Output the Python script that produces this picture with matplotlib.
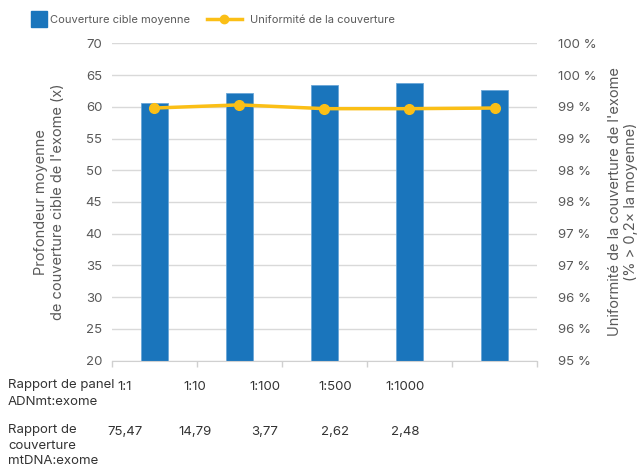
import matplotlib.pyplot as plt
from matplotlib.lines import Line2D

plt.rcParams['font.family'] = ['Inter', 'DejaVu Sans']

# données
ratios_panel = ["1:1", "1:10", "1:100", "1:500", "1:1000"]
ratios_cov = ["75,47", "14,79", "3,77", "2,62", "2,48"]
couverture = [60.6, 62.2, 63.4, 63.7, 62.6]
uniformite = [98.98, 99.03, 98.97, 98.97, 98.98]

BLUE = "#1a75bc"
GOLD = "#fbbf16"
GRAY = "#595959"
DARK = "#333333"
FS = 9.5

W, H = 638, 473
fig = plt.figure(figsize=(W / 100, H / 100), dpi=100)
ax = fig.add_axes([0.1755, 0.2374, 0.6662, 0.6711])

x = list(range(len(ratios_panel)))
ax.bar(x, couverture, width=0.31, color=BLUE, edgecolor="#6aa7d8", linewidth=0.6, zorder=2)
ax.set_xlim(-0.5, len(x) - 0.5)
ax.set_ylim(20, 70)
ax.set_yticks(range(20, 71, 5))
ax.grid(axis="y", color="#d9d9d9", linewidth=1, zorder=0)
ax.set_xticks([i - 0.5 for i in range(len(x) + 1)])
ax.set_xticklabels([])
ax.tick_params(axis="x", length=4, color="#d0d0d0", width=1)
ax.tick_params(axis="y", length=0, labelsize=FS, labelcolor=GRAY, pad=7)
for s in ["top", "left", "right"]:
    ax.spines[s].set_visible(False)
ax.spines["bottom"].set_color("#d0d0d0")
ax.set_ylabel("Profondeur moyenne\nde couverture cible de l'exome (x)",
              fontsize=10.5, color=GRAY, labelpad=15)

ax2 = ax.twinx()
ax2.plot(x, uniformite, color=GOLD, linewidth=2.5, marker="o", markersize=7, zorder=3)
ax2.set_ylim(95, 100)
ax2.set_yticks([95 + 0.5 * i for i in range(11)])
ax2.set_yticklabels([f"{int(v + 0.5)} %" for v in ax2.get_yticks()])
ax2.tick_params(axis="y", length=0, labelsize=FS, labelcolor=GRAY, pad=15)
for s in ["top", "left", "right", "bottom"]:
    ax2.spines[s].set_visible(False)
ax2.set_ylabel("Uniformité de la couverture de l'exome\n(% > 0,2× la moyenne)",
               fontsize=10.5, color=GRAY, labelpad=8)

# légende (deux morceaux pour des poignées de tailles différentes)
fig.legend([Line2D([], [], color=BLUE, marker="s", markersize=11, linestyle="none")],
           ["Couverture cible moyenne"], loc="center left",
           bbox_to_anchor=(0.043, 1 - 20 / H), frameon=False, fontsize=8,
           labelcolor=GRAY, handlelength=1.2, handletextpad=0.4, borderaxespad=0)
fig.legend([Line2D([], [], color=GOLD, linewidth=2.5, marker="o", markersize=6)],
           ["Uniformité de la couverture"], loc="center left",
           bbox_to_anchor=(0.317, 1 - 20 / H), frameon=False, fontsize=8,
           labelcolor=GRAY, handlelength=3.2, handletextpad=0.7, borderaxespad=0)

# tableau sous le graphique
fig.text(8 / W, 1 - 379 / H, "Rapport de panel\nADNmt:exome", fontsize=FS,
         color=DARK, va="top", ha="left", linespacing=1.55)
fig.text(8 / W, 1 - 424 / H, "Rapport de\ncouverture\nmtDNA:exome", fontsize=FS,
         color=DARK, va="top", ha="left", linespacing=1.4)
row1_y = 1 - 387 / H
row2_y = 1 - 432 / H
for i in range(len(ratios_panel)):
    cx = (125 + 70 * i) / W
    fig.text(cx, row1_y, ratios_panel[i], fontsize=FS, color=DARK, ha="center", va="center")
    fig.text(cx, row2_y, ratios_cov[i], fontsize=FS, color=DARK, ha="center", va="center")

fig.savefig("out.png", dpi=100)
